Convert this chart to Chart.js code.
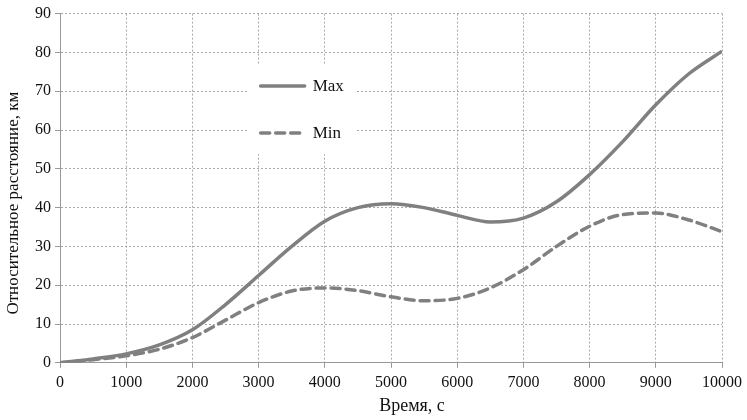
<!DOCTYPE html>
<html>
<head>
<meta charset="utf-8">
<script src="https://cdn.jsdelivr.net/npm/chart.js@4"></script>
<style>
    html, body { margin: 0; padding: 0; background: #fff; }
    #wrap { width: 747px; height: 420px; }
</style>
</head>
<body>
<div id="wrap"><canvas id="lineChart"></canvas></div>
<script>
// data
const timeValues = [0, 500, 1000, 1500, 2000, 2500, 3000, 3500, 4000, 4500, 5000,
    5500, 6000, 6500, 7000, 7500, 8000, 8500, 9000, 9500, 10000];
const maxValues = [0, 1, 2.3, 4.6, 8.5, 15, 22.5, 30, 36.5, 40, 41,
    40, 38, 36.3, 37.3, 41.5, 48.5, 57, 66.5, 74.5, 80.3];
const minValues = [0, 0.8, 1.8, 3.5, 6.5, 11, 15.5, 18.5, 19.3, 18.6, 17,
    16, 16.6, 19.3, 24, 30, 35.2, 38.2, 38.6, 36.8, 33.8];
const seriesNames = ['Max', 'Min'];
const xTitle = 'Время, с';
const yTitle = 'Относительное расстояние, км';

const lineColor = '#808080';
const serif = "'Liberation Serif', 'Times New Roman', serif";

function toPoints(values) {
    return timeValues.map((t, i) => ({ x: t, y: values[i] }));
}

// legend is drawn inside the plot, on a white box
const innerLegend = {
    id: 'innerLegend',
    afterDatasetsDraw(chart) {
        const ctx = chart.ctx;
        const xs = chart.scales.x;
        const ys = chart.scales.y;
        const left = xs.getPixelForValue(2850);
        const top = ys.getPixelForValue(77);
        ctx.save();
        ctx.fillStyle = '#fff';
        ctx.fillRect(left, top, 108, 90);
        chart.data.datasets.forEach((ds, i) => {
            const y = top + 22 + i * 47;
            ctx.strokeStyle = ds.borderColor;
            ctx.lineWidth = ds.borderWidth;
            ctx.lineCap = 'round';
            ctx.setLineDash(ds.borderDash || []);
            ctx.beginPath();
            ctx.moveTo(left + 12, y);
            ctx.lineTo(left + 56, y);
            ctx.stroke();
            ctx.setLineDash([]);
            ctx.fillStyle = '#111';
            ctx.font = '17px ' + serif;
            ctx.textBaseline = 'middle';
            ctx.fillText(ds.label, left + 64, y);
        });
        ctx.restore();
    }
};

// axis titles sit a bit off centre in the original, so draw them by hand
const axisTitles = {
    id: 'axisTitles',
    afterDraw(chart) {
        const ctx = chart.ctx;
        const area = chart.chartArea;
        ctx.save();
        ctx.fillStyle = '#111';
        ctx.textAlign = 'center';
        ctx.textBaseline = 'middle';
        ctx.font = '18px ' + serif;
        ctx.fillText(xTitle, (area.left + area.right) / 2 + 21, area.bottom + 43);
        ctx.translate(14, (area.top + area.bottom) / 2 + 15);
        ctx.rotate(-Math.PI / 2);
        ctx.font = '17px ' + serif;
        ctx.fillText(yTitle, 0, 0);
        ctx.restore();
    }
};

const ctx = document.getElementById('lineChart').getContext('2d');

new Chart(ctx, {
    type: 'line',
    data: {
        datasets: [{
            label: seriesNames[0],
            data: toPoints(maxValues),
            borderColor: lineColor,
            borderWidth: 3.5,
            pointRadius: 0,
            tension: 0.4,
            cubicInterpolationMode: 'monotone'
        }, {
            label: seriesNames[1],
            data: toPoints(minValues),
            borderColor: lineColor,
            borderWidth: 3.5,
            borderDash: [9, 6],
            borderCapStyle: 'round',
            pointRadius: 0,
            tension: 0.4,
            cubicInterpolationMode: 'monotone'
        }]
    },
    options: {
        responsive: true,
        maintainAspectRatio: false,
        animation: false,
        layout: { padding: { top: 7, right: 25, left: 31, bottom: 23 } },
        plugins: {
            legend: { display: false },
            tooltip: { enabled: false }
        },
        scales: {
            x: {
                type: 'linear',
                min: 0,
                max: 10000,
                ticks: {
                    stepSize: 1000, color: '#111', font: { family: serif, size: 16 }, padding: 5, maxRotation: 0,
                    callback: v => String(v)
                },
                grid: { color: '#a8a8a8', tickLength: 5, tickColor: '#999', tickBorderDash: [] },
                border: { color: '#999', width: 1, dash: [2, 2] }
            },
            y: {
                min: 0,
                max: 90,
                ticks: { stepSize: 10, color: '#111', font: { family: serif, size: 16 }, padding: 4 },
                grid: { color: '#a8a8a8', tickLength: 5, tickColor: '#999', tickBorderDash: [] },
                border: { color: '#999', width: 1, dash: [2, 2] }
            }
        }
    },
    plugins: [innerLegend, axisTitles]
});
</script>
</body>
</html>
